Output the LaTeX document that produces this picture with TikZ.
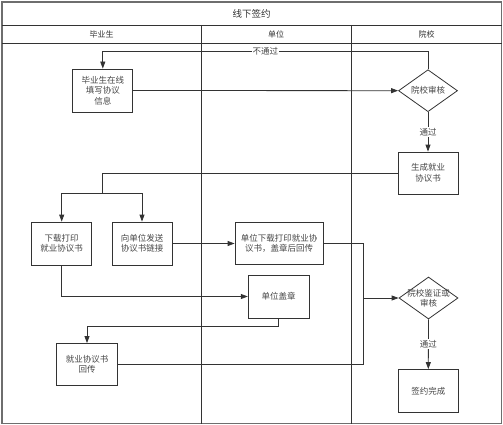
\documentclass[tikz,border=0pt]{standalone}
\usepackage{fontspec}
\setmainfont{Noto Sans CJK SC}
\usepackage{xcolor}
\usetikzlibrary{arrows.meta,shapes.geometric,positioning}

\definecolor{linegray}{RGB}{51,51,51}
\definecolor{framegray}{RGB}{110,110,110}
\definecolor{textgray}{RGB}{70,70,70}

\begin{document}
\begin{tikzpicture}[x=1pt,y=-1pt,>={Triangle[length=7pt,width=5pt]},font=\fontsize{8.5}{10.5}\selectfont]
  \tikzstyle{box}=[draw=linegray,thick,fill=white,text=textgray,align=center,inner sep=1pt]
  \tikzstyle{check}=[draw=linegray,thick,diamond,fill=white,inner sep=0pt,minimum width=59pt,minimum height=42pt,
    label={[text=textgray,align=center]center:#1}]
  \tikzstyle{flow}=[draw=linegray,thick]
  \useasboundingbox (0,0) rectangle (503,425);
  % lanes
  \draw[framegray,line width=1.2pt] (2,2) rectangle (501.5,423.5);
  \draw[linegray] (2,25) -- (501.5,25);
  \draw[linegray] (2,43.5) -- (501.5,43.5);
  \draw[linegray,thick] (201,43.5) -- (201,423.5);
  \draw[linegray,thick] (351,43.5) -- (351,423.5);
  \draw[linegray] (201,25) -- (201,43.5);
  \draw[linegray] (351,25) -- (351,43.5);
  \node[text=linegray,font=\fontsize{9.5}{11}\selectfont] (title) at (251.5,13.5) {线下签约};
  \node[text=linegray,font=\fontsize{8}{10}\selectfont] (grad) at (101.5,34.5) {毕业生};
  \node[text=linegray,font=\fontsize{8}{10}\selectfont] (unit) at (276,34.5) {单位};
  \node[text=linegray,font=\fontsize{8}{10}\selectfont] (school) at (426.5,34.5) {院校};
  % nodes
  \node[box,minimum width=60pt,minimum height=43pt] (fill) at (102.8,90.5) {毕业生在线\\填写协议\\信息};
  \node[check={院校审核}] (review) at (428,90.7) {};
  \node[box,minimum width=60pt,minimum height=42pt] (gen) at (428,173) {生成就业\\协议书};
  \node[box,minimum width=60pt,minimum height=43pt] (print) at (61.7,243.5) {下载打印\\就业协议书};
  \node[box,minimum width=60pt,minimum height=43pt] (send) at (142,243.5) {向单位发送\\协议书链接};
  \node[box,minimum width=88pt,minimum height=42pt] (unitdl) at (279,243.5) {单位下载打印就业协\\议书，盖章后回传};
  \node[box,minimum width=61pt,minimum height=43pt] (seal) at (278.7,296.5) {单位盖章};
  \node[box,minimum width=61pt,minimum height=42pt] (ret) at (87,364.5) {就业协议书\\回传};
  \node[check={院校鉴证或\\审核}] (verify) at (428.5,298) {};
  \node[box,minimum width=60pt,minimum height=43pt] (done) at (428.3,391) {签约完成};
  \coordinate (split) at (102,193);
  \coordinate (merge) at (363.5,298);
  \coordinate (back) at (278.7,326.7);
  % connectors
  \draw[flow,->] (fill) -- (review);
  \draw[flow,->] (review.north) -- (428,51) -| node[pos=0.25,fill=white,text=textgray,inner sep=1pt] {不通过} (fill.north);
  \draw[flow,->] (review.south) -- node[fill=white,text=textgray,inner sep=1pt] {通过} (gen.north);
  \draw[flow] (gen.west) -| (split);
  \draw[flow,->] (split) -| (print.north);
  \draw[flow,->] (split) -| (send.north);
  \draw[flow,->] (send) -- (unitdl);
  \draw[flow,->] (print.south) |- (seal.west);
  \draw[flow] (seal.south) -- (back);
  \draw[flow,->] (back) -| (ret.north);
  \draw[flow] (unitdl.east) -| (merge);
  \draw[flow] (ret.east) -| (merge);
  \draw[flow,->] (merge) -- (verify.west);
  \draw[flow,->] (verify.south) -- node[fill=white,text=textgray,inner sep=1pt] {通过} (done.north);
\end{tikzpicture}
\end{document}
